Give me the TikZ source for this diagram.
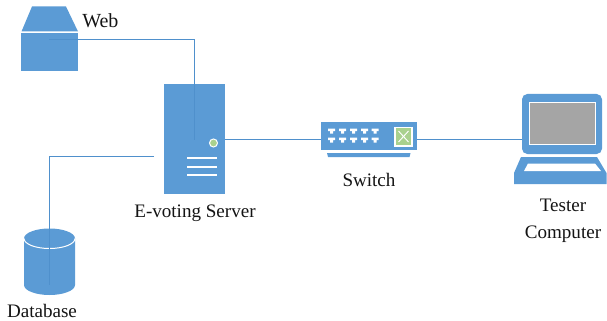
\documentclass[tikz,border=0pt]{standalone}
\usepackage{fontspec}
\setmainfont{Liberation Serif}
\definecolor{iconblue}{HTML}{5B9BD5}
\definecolor{linkblue}{HTML}{4F90CC}
\definecolor{ledgreen}{HTML}{A9D18E}
\definecolor{screengray}{HTML}{A5A5A5}
\tikzset{
  px/.style={x=.75pt,y=-.75pt},
  icon/.style={fill=iconblue,draw=none,inner sep=0pt,outer sep=0pt},
  linkline/.style={draw=linkblue,line width=.65pt},
  whitebar/.style={draw=white,line width=1.5pt},
  whitethin/.style={draw=white,line width=.75pt},
  portmark/.style={fill=white,draw=none},
  caption/.style={font=\fontsize{14.3pt}{17pt}\selectfont,text=black!92,inner sep=0pt,align=center}
}
\begin{document}
\begin{tikzpicture}[px]
\useasboundingbox (0,0) rectangle (607,321);
% Web
\fill[icon] (32,6.5) -- (66,6.5) -- (78,31.5) -- (21.5,31.5) -- cycle;
\node[icon,minimum width=42.75pt,minimum height=28.5pt] (web) at (49.5,52) {};
\node[caption,anchor=west,font=\fontsize{15pt}{17pt}\selectfont] (weblabel) at (82,21) {Web};
% Server
\node[icon,minimum width=45.75pt,minimum height=82.5pt] (server) at (194.5,139) {};
\filldraw[fill=ledgreen,whitethin] (213.5,143) circle (4);
\draw[whitebar] (187,158) -- (217,158);
\draw[whitebar] (187,167) -- (217,167);
\draw[whitebar] (187,175) -- (217,175);
\node[caption] (serverlabel) at (195,213) {E-voting Server};
% Database
\fill[icon] (24,238.5) arc[start angle=180,end angle=360,x radius=25.5,y radius=10]
  -- (75,285) arc[start angle=0,end angle=180,x radius=25.5,y radius=10] -- cycle;
\draw[whitethin] (24,238.5) arc[start angle=180,end angle=0,x radius=25.5,y radius=10];
\node[inner sep=0pt,outer sep=0pt,minimum size=0pt] (db) at (49.5,285) {};
\node[caption] (dblabel) at (42,311) {Database};
% Switch
\node[icon,minimum width=72pt,minimum height=21pt] (switch) at (369,136) {};
\fill[icon] (327,153) -- (410.5,153) -- (409.5,157) -- (328,157) -- cycle;
\foreach \xx in {331.7,342.5,353.7,364.5,375}{
  \foreach \yy in {131,140}{
    \fill[portmark] (\xx-3.5,\yy-2.5) -- (\xx+3.5,\yy-2.5) -- (\xx+3.5,\yy) -- (\xx+1.5,\yy) -- (\xx+1.5,\yy+2.5) -- (\xx-1.5,\yy+2.5) -- (\xx-1.5,\yy) -- (\xx-3.5,\yy) -- cycle;
  }
}
\fill[white] (394,126.5) rectangle (412.5,146.5);
\fill[ledgreen] (396,128) rectangle (411,145);
\draw[white,line width=.7pt] (398.5,131) -- (408.5,142) (408.5,131) -- (398.5,142);
\node[caption] (switchlabel) at (369,180) {Switch};
% Laptop
\node[inner sep=0pt,outer sep=0pt,minimum size=0pt] (laptop) at (522,139) {};
\fill[icon,rounded corners=4pt] (522,154) -- (522,94) -- (602,94) -- (602,154) -- cycle;
\filldraw[fill=screengray,whitethin] (529.5,102.5) rectangle (595,144);
\fill[icon] (521,157) -- (597,157) -- (606.5,173) -- (606.5,184) -- (514,184) -- (514,173) -- cycle;
\fill[white] (528,163.5) -- (595,163.5) -- (601,171) -- (524,171) -- cycle;
\node[caption] (laptoplabel) at (563,221) {Tester\\[3.5pt]Computer};
% Connectors
\coordinate (webstart) at (49,39);
\coordinate (serverin) at (194.5,140);
\coordinate (serverleft) at (154,156);
\draw[linkline] (webstart) -| (serverin);
\draw[linkline] (serverleft) -| (db.center);
\draw[linkline] (server.east) -- (server.east -| switch.west);
\draw[linkline] (switch.east |- laptop) -- (laptop);
\end{tikzpicture}
\end{document}
